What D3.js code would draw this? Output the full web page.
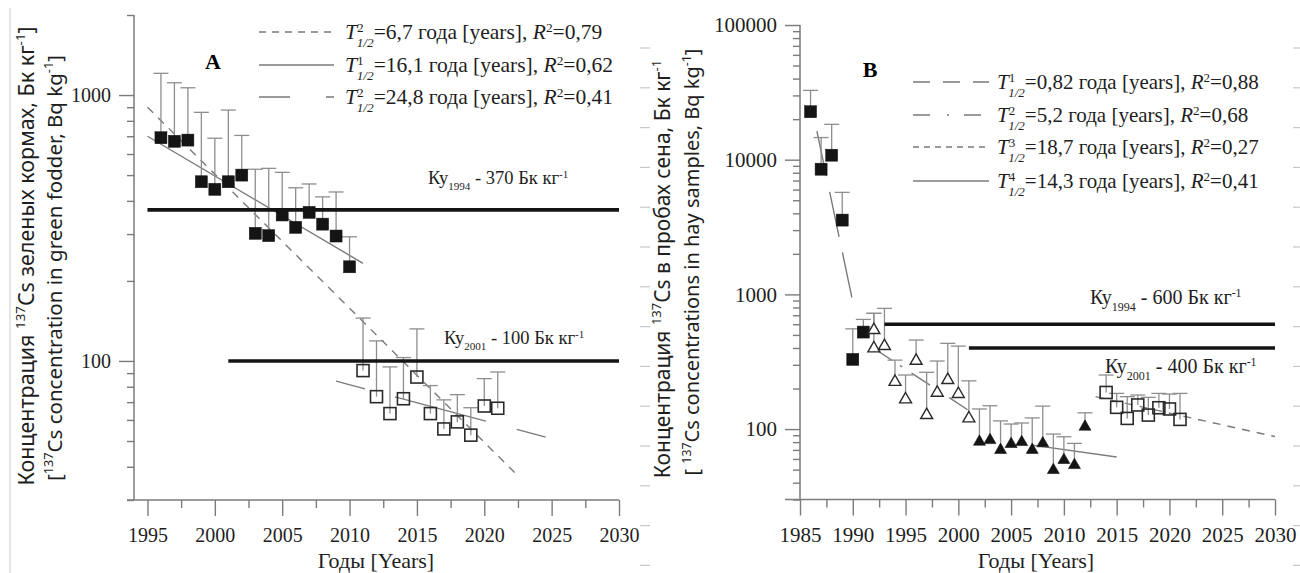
<!DOCTYPE html>
<html>
<head>
<meta charset="utf-8">
<script src="https://cdn.jsdelivr.net/npm/d3@7"></script>
<style>
  body { margin: 0; background: #fff; }
  svg { display: block; }
</style>
</head>
<body>
<svg id="chart" width="1300" height="573"></svg>
<script>
// ---------- Panel A: 137Cs in green fodder ----------
const yearsA_before = [1996, 1997, 1998, 1999, 2000, 2001, 2002, 2003, 2004, 2005, 2006, 2007, 2008, 2009, 2010];
const valuesA_before = [691, 670, 677, 472, 442, 472, 500, 302, 296, 354, 318, 362, 327, 295, 226];
const upperA_before = [1207, 1112, 1065, 861, 688, 878, 705, 526, 530, 512, 448, 463, 414, 432, 293];

const yearsA_after = [2011, 2012, 2013, 2014, 2015, 2016, 2017, 2018, 2019, 2020, 2021];
const valuesA_after = [92, 73.4, 63.4, 72.1, 87, 63.4, 55.5, 59, 52.6, 67.7, 66.4];
const upperA_after = [145, 119, 95, 103, 132, 80.8, 71.4, 74.7, 66.7, 85.8, 90.9];

// fitted decay lines: [start, end] years and values
const trendA_fast = { years: [1995, 2022.5], values: [900, 37] };   // T=6,7
const trendA_mid = { years: [1995, 2011], values: [700, 233] };      // T=16,1
const trendA_slow = { years: [2009, 2025], values: [84, 51] };       // T=24,8

// permissible levels
const limitsA = [
  { from: 1995, to: 2030, value: 370, year: "1994" },
  { from: 2001, to: 2030, value: 100, year: "2001" }
];

const legendA = [
  { sup: "2", value: "6,7", r2: "0,79" },
  { sup: "1", value: "16,1", r2: "0,62" },
  { sup: "2", value: "24,8", r2: "0,41" }
];

// ---------- Panel B: 137Cs in hay ----------
const yearsB_sq1 = [1986, 1987, 1988, 1989, 1990, 1991];
const valuesB_sq1 = [22700, 8500, 10800, 3560, 329, 525];
const upperB_sq1 = [32700, 14600, 18300, 5720, 555, 652];

const yearsB_tri1 = [1992, 1992, 1993, 1994, 1995, 1996, 1997, 1998, 1999, 2000, 2001];
const valuesB_tri1 = [543, 397, 413, 224, 166, 321, 127, 186, 231, 182, 120];
const upperB_tri1 = [723, 723, 787, 325, 252, 458, 264, 320, 433, 413, 228];

const yearsB_tri2 = [2002, 2003, 2004, 2005, 2006, 2007, 2008, 2009, 2010, 2011, 2012];
const valuesB_tri2 = [80.5, 82.8, 69.9, 77.4, 80, 70, 78.3, 49.6, 58.9, 54, 104];
const upperB_tri2 = [141, 149, 115, 109, 111, 121, 148, 91.8, 87.7, 78.3, 132];

const yearsB_sq2 = [2014, 2015, 2016, 2017, 2018, 2019, 2020, 2021];
const valuesB_sq2 = [187, 145, 120, 151, 127, 144, 141, 118];
const upperB_sq2 = [252, 184, 174, 179, 172, 184, 182, 184];

const trendB_1 = { years: [1986.6, 1990], values: [16300, 880] };   // T=0,82
const trendB_2 = { years: [1992, 2001.2], values: [397, 134] };     // T=5,2
const trendB_3 = { years: [2013, 2030], values: [174, 88] };        // T=18,7
const trendB_4 = { years: [2007, 2015], values: [76, 62] };         // T=14,3

const limitsB = [
  { from: 1993, to: 2030, value: 600, year: "1994" },
  { from: 2001, to: 2030, value: 400, year: "2001" }
];

const legendB = [
  { sup: "1", value: "0,82", r2: "0,88" },
  { sup: "2", value: "5,2", r2: "0,68" },
  { sup: "3", value: "18,7", r2: "0,27" },
  { sup: "4", value: "14,3", r2: "0,41" }
];

// axis tick labels
const yLabelsA = [100, 1000];
const yLabelsB = [100, 1000, 10000, 100000];
const xLabelsA = [1995, 2000, 2005, 2010, 2015, 2020, 2025, 2030];
const xLabelsB = [1985, 1990, 1995, 2000, 2005, 2010, 2015, 2020, 2025, 2030];

// ---------- drawing ----------
const serif = '"Liberation Serif", "Times New Roman", serif';
const sans = '"Noto Sans", "DejaVu Sans", sans-serif';
const axisGrey = "#7b7b7b";
const trendGrey = "#7a7a7a";
const barGrey = "#8e8e8e";
const ink = "#141414";

const svg = d3.select("#chart");

const xA = d3.scaleLinear().domain([1994, 2030]).range([134, 619]);
const yA = d3.scaleLog().domain([30, 2000]).range([500, 15]);
const xB = d3.scaleLinear().domain([1985, 2030]).range([800, 1275]);
const yB = d3.scaleLog().domain([30, 100000]).range([499.5, 25]);

// faint scan edge marks
svg.append("line").attr("x1", 10).attr("x2", 10).attr("y1", 8).attr("y2", 573)
  .attr("stroke", "#d6d6d6").attr("stroke-width", 1.2);
[[640, 650], [1293, 1300]].forEach(([a, b]) => {
  svg.append("g").selectAll("line").data(d3.range(14)).join("line")
    .attr("x1", a).attr("x2", b)
    .attr("y1", i => 48 + i * 39.8).attr("y2", i => 48 + i * 39.8)
    .attr("stroke", "#c8c8c8").attr("stroke-width", 1.2);
});

function rich(text, parts) {
  parts.forEach(p => {
    const ts = text.append("tspan").text(p.t);
    if (p.sup) ts.attr("baseline-shift", "super").style("font-size", p.fs || "0.62em");
    if (p.sub) ts.attr("baseline-shift", "sub").style("font-size", p.fs || "0.62em");
    if (p.it) ts.style("font-style", "italic");
    if (p.dx !== undefined) ts.attr("dx", p.dx);
  });
  return text;
}

function minorLog(domain) {
  const out = [];
  for (let e = Math.floor(Math.log10(domain[0])); e <= Math.ceil(Math.log10(domain[1])); e++) {
    for (let m = 2; m < 10; m++) {
      const v = m * Math.pow(10, e);
      if (v >= domain[0] * 0.999 && v <= domain[1] * 1.001) out.push(v);
    }
  }
  return out;
}

function styleAxis(g, fontSize) {
  g.select(".domain").remove();
  g.selectAll(".tick line").attr("stroke", axisGrey).attr("stroke-width", 1.4);
  g.selectAll(".tick text").attr("fill", "#1e1e1e")
    .style("font-family", serif).style("font-size", fontSize + "px");
}

function drawAxes(x, y, yMajor, xMajor, xMinor, baseStart, fs) {
  const x0 = x.range()[0];
  const yBottom = y.range()[0];
  // y axis
  const gm = svg.append("g").attr("transform", `translate(${x0},0)`)
    .call(d3.axisLeft(y).tickValues(minorLog(y.domain())).tickSize(7).tickFormat(""));
  styleAxis(gm, fs);
  const gM = svg.append("g").attr("transform", `translate(${x0},0)`)
    .call(d3.axisLeft(y).tickValues(yMajor).tickSize(15).tickPadding(8).tickFormat(d3.format("d")));
  styleAxis(gM, fs);
  svg.append("line").attr("x1", x0).attr("x2", x0)
    .attr("y1", y.range()[1]).attr("y2", yBottom)
    .attr("stroke", axisGrey).attr("stroke-width", 1.5);
  // x axis
  const gxm = svg.append("g").attr("transform", `translate(0,${yBottom})`)
    .call(d3.axisBottom(x).tickValues(xMinor).tickSize(8).tickFormat(""));
  styleAxis(gxm, fs);
  const gxM = svg.append("g").attr("transform", `translate(0,${yBottom})`)
    .call(d3.axisBottom(x).tickValues(xMajor).tickSize(16).tickPadding(12).tickFormat(d3.format("d")));
  styleAxis(gxM, fs);
  svg.append("line").attr("x1", baseStart).attr("x2", x.range()[1])
    .attr("y1", yBottom).attr("y2", yBottom)
    .attr("stroke", axisGrey).attr("stroke-width", 1.5);
}

drawAxes(xA, yA, yLabelsA, xLabelsA, xLabelsA.slice(0, -1).map(d => d + 2.5), 127, 20);
drawAxes(xB, yB, yLabelsB, xLabelsB, xLabelsB.slice(0, -1).map(d => d + 2.5), 785, 21);

// axis titles
function xTitle(cx) {
  svg.append("text").attr("x", cx).attr("y", 568).attr("text-anchor", "middle")
    .style("font-family", serif).style("font-size", "22px").attr("fill", "#1e1e1e")
    .text("Годы [Years]");
}
xTitle(376);
xTitle(1036);

function yTitle(bx, cy, parts, size) {
  const t = svg.append("text")
    .attr("transform", `translate(${bx},${cy}) rotate(-90)`)
    .attr("text-anchor", "middle")
    .style("font-family", sans).style("font-size", size + "px").attr("fill", "#1e1e1e");
  rich(t, parts);
}
yTitle(34, 256, [{ t: "Концентрация " }, { t: "137", sup: true }, { t: "Cs зеленых кормах, Бк кг" }, { t: "-1", sup: true }, { t: "]" }], 21.5);
yTitle(62, 268, [{ t: "[" }, { t: "137", sup: true }, { t: "Cs concentration in green fodder, Bq kg" }, { t: "-1", sup: true }, { t: "]" }], 20.5);
yTitle(670, 269, [{ t: "Концентрация " }, { t: "137", sup: true }, { t: "Cs в пробах сена, Бк кг" }, { t: "-1", sup: true }], 21);
yTitle(699, 262, [{ t: "[ " }, { t: "137", sup: true }, { t: "Cs concentrations in hay samples, Bq kg" }, { t: "-1", sup: true }, { t: "]" }], 20);

// panel letters
svg.append("text").attr("x", 213).attr("y", 69).attr("text-anchor", "middle")
  .style("font-family", serif).style("font-size", "22px").style("font-weight", "bold").text("A");
svg.append("text").attr("x", 870).attr("y", 77).attr("text-anchor", "middle")
  .style("font-family", serif).style("font-size", "22px").style("font-weight", "bold").text("B");

// trend lines
const trendLine = (x, y) => d3.line().x(d => x(d[0])).y(d => y(d[1]));
function drawTrend(x, y, tr, dash) {
  svg.append("path")
    .attr("d", trendLine(x, y)(d3.zip(tr.years, tr.values)))
    .attr("fill", "none").attr("stroke", trendGrey).attr("stroke-width", 1.4)
    .attr("stroke-dasharray", dash);
}
drawTrend(xA, yA, trendA_fast, "8,7");
drawTrend(xA, yA, trendA_mid, null);
drawTrend(xA, yA, trendA_slow, "30,31,94,32,30,40");
drawTrend(xB, yB, trendB_1, "46,16");
drawTrend(xB, yB, trendB_2, "22,9,3,11");
drawTrend(xB, yB, trendB_3, "8,7");
drawTrend(xB, yB, trendB_4, null);

// error bars
function drawErrors(x, y, years, values, upper) {
  const g = svg.append("g").attr("stroke", barGrey).attr("stroke-width", 1.3);
  const rows = d3.zip(years, values, upper);
  g.selectAll(".stem").data(rows).join("line")
    .attr("x1", d => x(d[0])).attr("x2", d => x(d[0]))
    .attr("y1", d => y(d[1])).attr("y2", d => y(d[2]));
  g.selectAll(".cap").data(rows).join("line")
    .attr("x1", d => x(d[0]) - 7.5).attr("x2", d => x(d[0]) + 7.5)
    .attr("y1", d => y(d[2])).attr("y2", d => y(d[2]));
}
drawErrors(xA, yA, yearsA_before, valuesA_before, upperA_before);
drawErrors(xA, yA, yearsA_after, valuesA_after, upperA_after);
drawErrors(xB, yB, yearsB_sq1, valuesB_sq1, upperB_sq1);
drawErrors(xB, yB, yearsB_tri1, valuesB_tri1, upperB_tri1);
drawErrors(xB, yB, yearsB_tri2, valuesB_tri2, upperB_tri2);
drawErrors(xB, yB, yearsB_sq2, valuesB_sq2, upperB_sq2);

// permissible level lines and labels
function drawLimits(x, y, limits, labelPos, size) {
  limits.forEach((l, i) => {
    svg.append("line")
      .attr("x1", x(l.from)).attr("x2", x(l.to))
      .attr("y1", y(l.value)).attr("y2", y(l.value))
      .attr("stroke", ink).attr("stroke-width", 3.6);
    const t = svg.append("text").attr("x", labelPos[i][0]).attr("y", labelPos[i][1])
      .style("font-family", serif).style("font-size", size + "px").attr("fill", "#1e1e1e");
    rich(t, [{ t: "Ку" }, { t: l.year, sub: true, fs: "0.6em" }, { t: ` - ${l.value} Бк кг` }, { t: "-1", sup: true, fs: "0.6em" }]);
  });
}
drawLimits(xA, yA, limitsA, [[428, 184], [444, 344]], 18.5);
drawLimits(xB, yB, limitsB, [[1090, 304], [1105, 373]], 20);

// markers
function squares(x, y, years, values, filled) {
  svg.append("g").selectAll("rect").data(d3.zip(years, values)).join("rect")
    .attr("x", d => x(d[0]) - 6).attr("y", d => y(d[1]) - 6)
    .attr("width", 12).attr("height", 12)
    .attr("fill", filled ? ink : "none")
    .attr("stroke", filled ? ink : "#2a2a2a")
    .attr("stroke-width", filled ? 0.5 : 1.6);
}
function triangles(x, y, years, values, filled) {
  const sym = d3.symbol(d3.symbolTriangle, 62);
  svg.append("g").selectAll("path").data(d3.zip(years, values)).join("path")
    .attr("d", sym)
    .attr("transform", d => `translate(${x(d[0])},${y(d[1])})`)
    .attr("fill", filled ? ink : "#fff")
    .attr("stroke", filled ? ink : "#2a2a2a")
    .attr("stroke-width", filled ? 0.6 : 1.4);
}
squares(xA, yA, yearsA_before, valuesA_before, true);
squares(xA, yA, yearsA_after, valuesA_after, false);
squares(xB, yB, yearsB_sq1, valuesB_sq1, true);
triangles(xB, yB, yearsB_tri1, valuesB_tri1, false);
triangles(xB, yB, yearsB_tri2, valuesB_tri2, true);
squares(xB, yB, yearsB_sq2, valuesB_sq2, false);

// legends
function legend(rows, dashes, x1, x2, tx, baselines, fs) {
  rows.forEach((r, i) => {
    const cy = baselines[i] - 7;
    svg.append("line").attr("x1", x1).attr("x2", x2).attr("y1", cy).attr("y2", cy)
      .attr("stroke", trendGrey).attr("stroke-width", 1.4)
      .attr("stroke-dasharray", dashes[i]);
    const t = svg.append("text").attr("x", tx).attr("y", baselines[i])
      .style("font-family", serif).style("font-size", fs + "px").attr("fill", "#1e1e1e");
    rich(t, [
      { t: "T", it: true },
      { t: r.sup, sup: true },
      { t: "1/2", sub: true, it: true, dx: -7 },
      { t: `=${r.value} года [years], ` },
      { t: "R", it: true },
      { t: "2", sup: true },
      { t: `=${r.r2}` }
    ]);
  });
}
legend(legendA, ["7,6", null, "31,36,8,40"], 259, 334, 345, [39, 72, 104], 21.5);
legend(legendB, ["17,13", "17,17,2,15,17,20", "6,5", null], 913, 989, 997, [89, 122, 154, 188], 21);
</script>
</body>
</html>
